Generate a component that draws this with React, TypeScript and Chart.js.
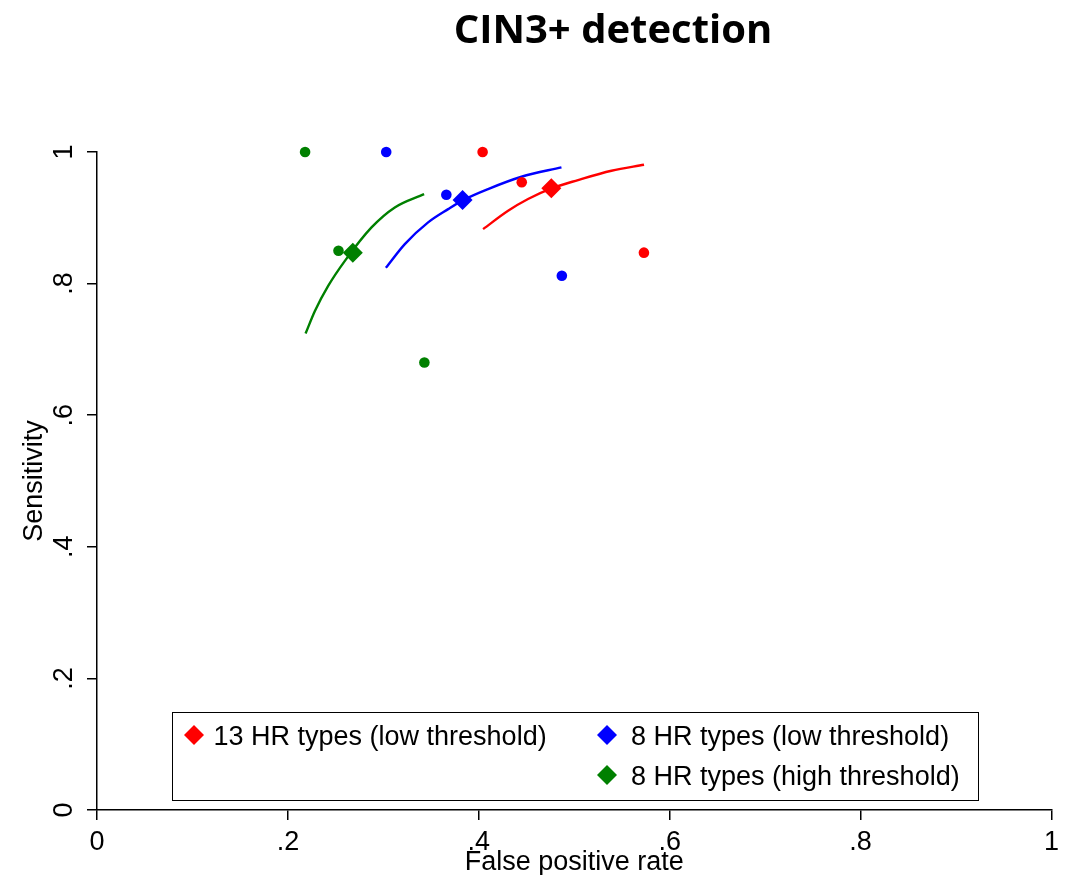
import { useEffect, useRef } from "react";
import { Chart, registerables } from "chart.js";

Chart.register(...registerables);

const chartTitle = "CIN3+ detection";
const xAxisTitle = "False positive rate";
const yAxisTitle = "Sensitivity";
const xTickLabels = ["0", ".2", ".4", ".6", ".8", "1"];
const yTickLabels = ["0", ".2", ".4", ".6", ".8", "1"];

const seriesNames = [
  "13 HR types (low threshold)",
  "8 HR types (low threshold)",
  "8 HR types (high threshold)",
];
const seriesColors = ["#ff0000", "#0000ff", "#008000"];

// Study-level estimates: false positive rate / sensitivity
const hr13LowStudyFpr = [0.404, 0.445, 0.573];
const hr13LowStudySens = [1.0, 0.954, 0.847];
const hr8LowStudyFpr = [0.303, 0.366, 0.487];
const hr8LowStudySens = [1.0, 0.935, 0.812];
const hr8HighStudyFpr = [0.218, 0.253, 0.343];
const hr8HighStudySens = [1.0, 0.85, 0.68];

// Pooled summary points (diamonds)
const summaryFpr = [0.476, 0.383, 0.268];
const summarySens = [0.945, 0.927, 0.847];

// SROC curves
const hr13LowCurveFpr = [0.4045, 0.4307, 0.4516, 0.4761, 0.504, 0.539, 0.5731];
const hr13LowCurveSens = [0.8828, 0.9107, 0.9285, 0.9447, 0.9574, 0.9715, 0.9807];
const hr8LowCurveFpr = [0.3026, 0.3225, 0.3469, 0.3679, 0.3836, 0.4097, 0.4447, 0.4866];
const hr8LowCurveSens = [0.8239, 0.86, 0.893, 0.9132, 0.9269, 0.9437, 0.9624, 0.9767];
const hr8HighCurveFpr = [0.2185, 0.2283, 0.2422, 0.2597, 0.2876, 0.312, 0.3427];
const hr8HighCurveSens = [0.7241, 0.7584, 0.7965, 0.8346, 0.8854, 0.9158, 0.9361];

const FONT = "'Liberation Sans', Arial, sans-serif";

const toPoints = (xs: number[], ys: number[]) => xs.map((x, i) => ({ x, y: ys[i] }));

const groups = [
  { studyX: hr13LowStudyFpr, studyY: hr13LowStudySens, curveX: hr13LowCurveFpr, curveY: hr13LowCurveSens },
  { studyX: hr8LowStudyFpr, studyY: hr8LowStudySens, curveX: hr8LowCurveFpr, curveY: hr8LowCurveSens },
  { studyX: hr8HighStudyFpr, studyY: hr8HighStudySens, curveX: hr8HighCurveFpr, curveY: hr8HighCurveSens },
];

// Title drawn off-centre, above the plot region
const titlePlugin = {
  id: "plotTitle",
  afterDraw(chart: any, _args: any, opts: any) {
    const ctx = chart.ctx;
    ctx.save();
    ctx.font = "bold 40px 'Open Sans', sans-serif";
    ctx.fillStyle = "#000";
    ctx.textAlign = "center";
    ctx.textBaseline = "alphabetic";
    ctx.fillText(opts.text, opts.x, opts.y);
    ctx.restore();
  },
};

// Boxed legend with a two-column layout (13 HR alone in the left column)
const boxLegendPlugin = {
  id: "boxLegend",
  afterDraw(chart: any, _args: any, opts: any) {
    const ctx = chart.ctx;
    const area = chart.chartArea;
    const left = Math.round(area.left + opts.offsetLeft);
    const top = Math.round(area.bottom - opts.offsetBottom - opts.height);
    ctx.save();
    ctx.strokeStyle = "#000";
    ctx.lineWidth = 1;
    ctx.strokeRect(left + 0.5, top + 0.5, opts.width, opts.height);
    const slots = [
      { col: 0, row: 0 },
      { col: 1, row: 0 },
      { col: 1, row: 1 },
    ];
    ctx.font = "27px " + FONT;
    ctx.textBaseline = "middle";
    ctx.textAlign = "left";
    seriesNames.forEach((name, i) => {
      const s = slots[i];
      const cx = left + opts.markerX[s.col];
      const cy = top + opts.rowY[s.row];
      const my = cy - 3;
      ctx.fillStyle = seriesColors[i];
      ctx.beginPath();
      ctx.moveTo(cx, my - 10);
      ctx.lineTo(cx + 10, my);
      ctx.lineTo(cx, my + 10);
      ctx.lineTo(cx - 10, my);
      ctx.closePath();
      ctx.fill();
      ctx.fillStyle = "#000";
      ctx.fillText(name, left + opts.textX[s.col], cy);
    });
    ctx.restore();
  },
};

export default function App() {
  const canvasRef = useRef<HTMLCanvasElement>(null);

  useEffect(() => {
    if (!canvasRef.current) return;
    const datasets: any[] = [];
    groups.forEach((g, i) => {
      datasets.push({
        label: seriesNames[i] + " SROC",
        data: toPoints(g.curveX, g.curveY),
        showLine: true,
        borderColor: seriesColors[i],
        borderWidth: 2.4,
        pointRadius: 0,
        cubicInterpolationMode: "monotone",
        order: 3,
      });
      datasets.push({
        label: seriesNames[i] + " studies",
        data: toPoints(g.studyX, g.studyY),
        showLine: false,
        clip: false,
        pointStyle: "circle",
        pointRadius: 5.3,
        backgroundColor: seriesColors[i],
        borderColor: seriesColors[i],
        borderWidth: 0,
        order: 2,
      });
      datasets.push({
        label: seriesNames[i],
        data: [{ x: summaryFpr[i], y: summarySens[i] }],
        showLine: false,
        clip: false,
        pointStyle: "rectRot",
        pointRadius: 10,
        backgroundColor: seriesColors[i],
        borderColor: seriesColors[i],
        borderWidth: 0,
        order: 1,
      });
    });

    const axisFont = { family: FONT, size: 27 };

    const chart = new Chart(canvasRef.current, {
      type: "scatter",
      data: { datasets },
      plugins: [titlePlugin, boxLegendPlugin],
      options: {
        responsive: false,
        animation: false,
        layout: { padding: { top: 144, right: 13, left: 0, bottom: 0 } },
        plugins: {
          legend: { display: false },
          tooltip: { enabled: false },
          title: { display: false },
          plotTitle: { text: chartTitle, x: 605, y: 35 },
          boxLegend: {
            offsetLeft: 75,
            offsetBottom: 10,
            width: 806,
            height: 88,
            markerX: [22, 435],
            textX: [41.5, 459],
            rowY: [26, 66],
          },
        } as any,
        scales: {
          x: {
            type: "linear",
            min: 0,
            max: 1,
            afterFit: (scale: any) => {
              scale.height = 65;
            },
            border: { display: true, color: "#000", width: 1.5 },
            grid: {
              display: true,
              drawOnChartArea: false,
              drawTicks: true,
              tickLength: 10,
              color: "#000",
              lineWidth: 1.5,
            },
            ticks: {
              stepSize: 0.2,
              color: "#000",
              font: axisFont,
              padding: 6,
              maxRotation: 0,
              callback: (_v: any, i: number) => xTickLabels[i],
            },
            title: {
              display: true,
              text: xAxisTitle,
              color: "#000",
              font: { family: FONT, size: 27, lineHeight: 0.95 },
              padding: { top: 0, bottom: 0 },
            },
          },
          y: {
            type: "linear",
            min: 0,
            max: 1,
            afterFit: (scale: any) => {
              scale.width = 89;
            },
            border: { display: true, color: "#000", width: 1.5 },
            grid: {
              display: true,
              drawOnChartArea: false,
              drawTicks: true,
              tickLength: 10,
              color: "#000",
              lineWidth: 1.5,
            },
            ticks: {
              stepSize: 0.2,
              color: "#000",
              font: axisFont,
              padding: 11,
              minRotation: 90,
              maxRotation: 90,
              crossAlign: "center",
              callback: (_v: any, i: number) => yTickLabels[i],
            },
            title: {
              display: true,
              text: yAxisTitle,
              color: "#000",
              font: { family: FONT, size: 27 },
              padding: { top: 10.5, bottom: 0 },
            },
          },
        },
      } as any,
    });
    return () => chart.destroy();
  }, []);

  return (
    <div style={{ width: 1057, height: 867 }}>
      <canvas ref={canvasRef} width={1057} height={867} style={{ display: "block" }} />
    </div>
  );
}
